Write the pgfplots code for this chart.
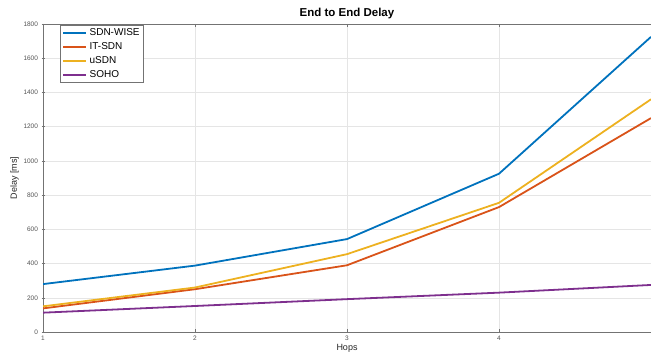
\documentclass[border=0pt]{standalone}
\usepackage{pgfplots}
\pgfplotsset{compat=1.18}
\usepackage{fontspec}
\setmainfont{Liberation Sans}
\definecolor{c1}{rgb}{0,0.447,0.741}
\definecolor{c2}{rgb}{0.85,0.325,0.098}
\definecolor{c3}{rgb}{0.929,0.694,0.125}
\definecolor{c4}{rgb}{0.494,0.184,0.556}
\definecolor{axgray}{rgb}{0.15,0.15,0.15}
\begin{document}
\begin{tikzpicture}
\begin{axis}[
  scale only axis,
  width=608pt, height=308pt,
  xmin=1, xmax=5, ymin=0, ymax=1800,
  xtick={1,2,3,4}, ytick={0,200,...,1800},
  axis x line=box, axis y line=left,
  axis line style={draw=black!55, line width=0.6pt, -},
  tick style={draw=black!55, line width=0.5pt},
  major tick length=3pt,
  grid=major,
  grid style={draw=black!10, line width=0.5pt},
  tick label style={font=\fontsize{6.5}{7}\selectfont, text=axgray!80},
  /pgf/number format/assume math mode=true,
  /pgf/number format/1000 sep={},
  title={\textbf{End to End Delay}},
  title style={font=\fontsize{11.5}{12}\selectfont, yshift=-4pt},
  xlabel={Hops}, ylabel={Delay [ms]},
  label style={font=\fontsize{9}{10}\selectfont, text=axgray},
  xlabel style={yshift=3pt},
  ylabel style={yshift=-2pt},
  legend style={at={(0.028,0.997)}, anchor=north west, draw=black!55, fill=white,
    font=\fontsize{10}{12}\selectfont, row sep=1.5pt, inner xsep=2pt, inner ysep=1.5pt},
  legend cell align=left,
  legend image code/.code={\draw[#1, line width=2.4pt] (0pt,0pt) -- (23pt,0pt);},
]
\addplot[draw=c1, line width=1.8pt] coordinates {(1,280) (2,388) (3,543) (4,925) (5,1725)};
\addlegendentry{SDN-WISE}
\addplot[draw=c2, line width=1.8pt] coordinates {(1,138) (2,250) (3,390) (4,730) (5,1250)};
\addlegendentry{IT-SDN}
\addplot[draw=c3, line width=1.8pt] coordinates {(1,150) (2,260) (3,455) (4,755) (5,1360)};
\addlegendentry{uSDN}
\addplot[draw=c4, line width=1.8pt] coordinates {(1,113) (2,152) (3,192) (4,230) (5,275)};
\addlegendentry{SOHO}
\end{axis}
\pgfresetboundingbox
\path (current axis.south west) ++(-43pt,-27pt) coordinate (bbA);
\path (current axis.north east) ++(0pt,24pt) coordinate (bbB);
\useasboundingbox (bbA) rectangle (bbB);
\end{tikzpicture}
\end{document}
